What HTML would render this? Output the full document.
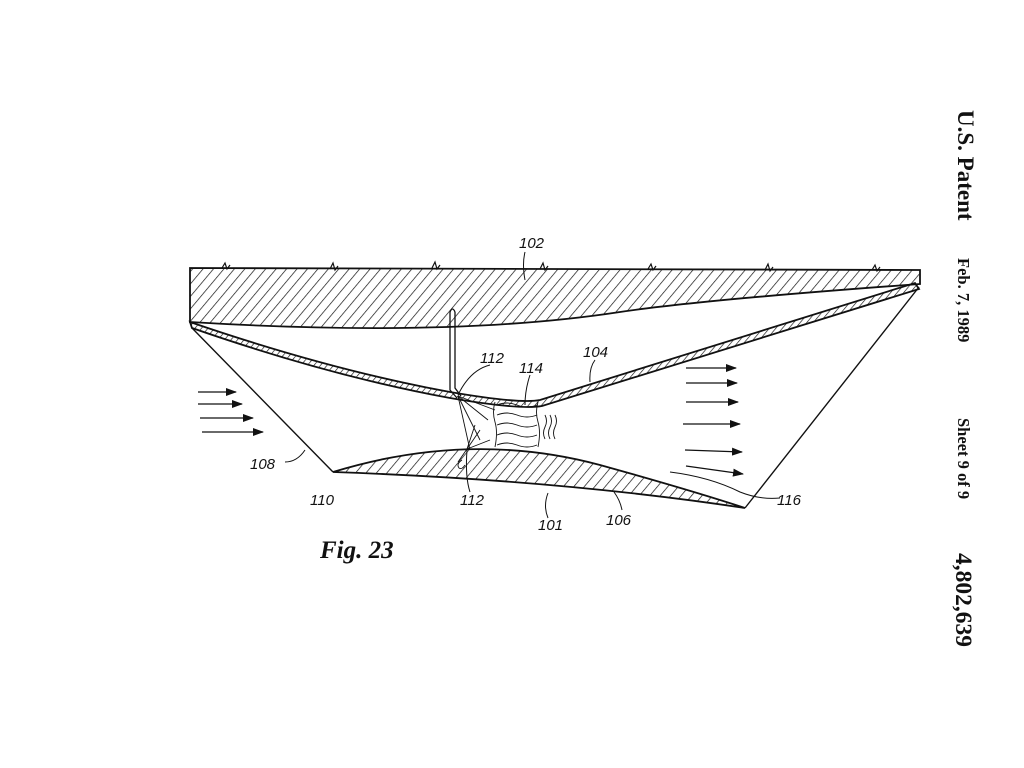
<!DOCTYPE html>
<html><head><meta charset="utf-8"><style>
html,body{margin:0;padding:0;background:#fff;}
svg{display:block}
text{font-family:"Liberation Sans",sans-serif;fill:#111}
.lb{font-size:15px;font-style:italic}
</style></head><body>
<svg width="1024" height="768" viewBox="0 0 1024 768" xmlns="http://www.w3.org/2000/svg">
<defs>
<pattern id="h" width="8" height="8" patternUnits="userSpaceOnUse" patternTransform="rotate(40)">
<line x1="0" y1="0" x2="0" y2="8" stroke="#111" stroke-width="1.4"/>
</pattern>
<pattern id="h2" width="5" height="5" patternUnits="userSpaceOnUse" patternTransform="rotate(40)">
<line x1="0" y1="0" x2="0" y2="5" stroke="#111" stroke-width="1.3"/>
</pattern>
<marker id="a" markerWidth="11" markerHeight="8" refX="10" refY="4" orient="auto" markerUnits="userSpaceOnUse">
<path d="M0,0 L11,4 L0,8 z" fill="#111"/></marker>
</defs>
<g stroke="#111" fill="none" stroke-width="1.8">
<!-- 102 body -->
<path d="M190,268 L920,270 L920,284 Q700,300 620,312 Q450,338 190,322 Z" fill="url(#h)"/>
<!-- jagged marks -->
<g stroke-width="1.2">
<path d="M222,268 l3,-5 l2,6 l3,-4"/><path d="M330,269 l3,-6 l2,7 l3,-4"/><path d="M432,268 l3,-6 l2,7 l3,-4"/>
<path d="M540,269 l3,-6 l2,7 l3,-4"/><path d="M648,269 l3,-5 l2,6 l3,-4"/><path d="M765,270 l3,-6 l2,7 l3,-4"/><path d="M872,270 l3,-5 l2,6 l3,-4"/>
</g>
<!-- 104 panel -->
<path d="M190,322 Q330,370 450,392 Q520,404 540,400 L915,283 L919,289 L542,406 Q520,410 450,398 Q330,376 192,328 Z" fill="url(#h2)"/>
<!-- side lines -->
<line x1="192" y1="328" x2="333" y2="472" stroke-width="1.4"/>
<line x1="919" y1="287" x2="745" y2="508" stroke-width="1.4"/>
<!-- 106 bottom body -->
<path d="M333,472 Q470,430 600,465 Q690,490 745,508 Q560,480 333,472 Z" fill="url(#h)"/>
<!-- tube -->
<path d="M450,312 L450,390 L457,398 M455,312 L455,388 L461,396" stroke-width="1.3"/>
<path d="M450,312 Q452.5,306 455,312" stroke-width="1.3"/>
<!-- spray lines -->
<g stroke-width="0.9">
<line x1="458" y1="396" x2="480" y2="440"/><line x1="458" y1="396" x2="488" y2="420"/><line x1="458" y1="396" x2="470" y2="450"/><line x1="458" y1="396" x2="495" y2="410"/>
<line x1="467" y1="449" x2="480" y2="430"/><line x1="467" y1="449" x2="490" y2="440"/><line x1="467" y1="449" x2="475" y2="425"/>
<path d="M467,449 L458,462 M462,460 q-6,4 -3,8 q3,2 6,-3"/>
</g>
<!-- wavy 114 -->
<g stroke-width="0.9">
<path d="M497,405 q10,-4 20,0 t20,0"/><path d="M497,415 q10,-4 20,0 t20,0"/><path d="M497,425 q10,-4 20,0 t20,0"/><path d="M497,435 q10,-4 20,0 t20,0"/><path d="M497,445 q10,-4 20,0 t20,0"/>
<path d="M495,402 q-3,10 0,20 t0,25"/><path d="M538,402 q-3,10 0,20 t0,25"/>
<path d="M545,415 q3,6 0,12 t0,12"/><path d="M550,415 q3,6 0,12 t0,12"/><path d="M555,415 q3,6 0,12 t0,12"/>
</g>
<!-- arrows -->
<g stroke-width="1.3">
<line x1="198" y1="392" x2="236" y2="392" marker-end="url(#a)"/>
<line x1="198" y1="404" x2="242" y2="404" marker-end="url(#a)"/>
<line x1="200" y1="418" x2="253" y2="418" marker-end="url(#a)"/>
<line x1="202" y1="432" x2="263" y2="432" marker-end="url(#a)"/>
<line x1="686" y1="368" x2="736" y2="368" marker-end="url(#a)"/>
<line x1="686" y1="383" x2="737" y2="383" marker-end="url(#a)"/>
<line x1="686" y1="402" x2="738" y2="402" marker-end="url(#a)"/>
<line x1="683" y1="424" x2="740" y2="424" marker-end="url(#a)"/>
<line x1="685" y1="450" x2="742" y2="452" marker-end="url(#a)"/>
<line x1="686" y1="466" x2="743" y2="474" marker-end="url(#a)"/>
</g>
<!-- leaders -->
<g stroke-width="1">
<path d="M525,252 q-3,12 0,28"/>
<path d="M595,360 q-6,8 -5,22"/>
<path d="M490,365 q-20,5 -32,30"/>
<path d="M530,375 q-5,15 -5,30"/>
<path d="M285,462 q12,0 20,-12"/>
<path d="M470,492 q-5,-15 -3,-42"/>
<path d="M548,518 q-5,-12 0,-25"/>
<path d="M622,510 q-2,-10 -8,-18"/>
<path d="M670,472 q40,5 70,20 q20,8 40,6"/>
</g>
</g>
<text class="lb" x="519" y="248">102</text>
<text class="lb" x="583" y="357">104</text>
<text class="lb" x="480" y="363">112</text>
<text class="lb" x="519" y="373">114</text>
<text class="lb" x="250" y="469">108</text>
<text class="lb" x="310" y="505">110</text>
<text class="lb" x="460" y="505">112</text>
<text class="lb" x="538" y="530">101</text>
<text class="lb" x="606" y="525">106</text>
<text class="lb" x="777" y="505">116</text>
<text x="320" y="558" style="font-family:'Liberation Serif',serif;font-size:25px;font-style:italic;font-weight:bold">Fig. 23</text>
<text transform="translate(958,110) rotate(90)" style="font-family:'Liberation Serif',serif;font-size:23px;font-weight:bold">U.S. Patent</text>
<text transform="translate(958,258) rotate(90)" style="font-family:'Liberation Serif',serif;font-size:16.5px;font-weight:bold">Feb. 7, 1989</text>
<text transform="translate(958,418) rotate(90)" style="font-family:'Liberation Serif',serif;font-size:16.5px;font-weight:bold">Sheet 9 of 9</text>
<text transform="translate(956,553) rotate(90)" style="font-family:'Liberation Serif',serif;font-size:23.5px;font-weight:bold">4,802,639</text>
</svg>
</body></html>
